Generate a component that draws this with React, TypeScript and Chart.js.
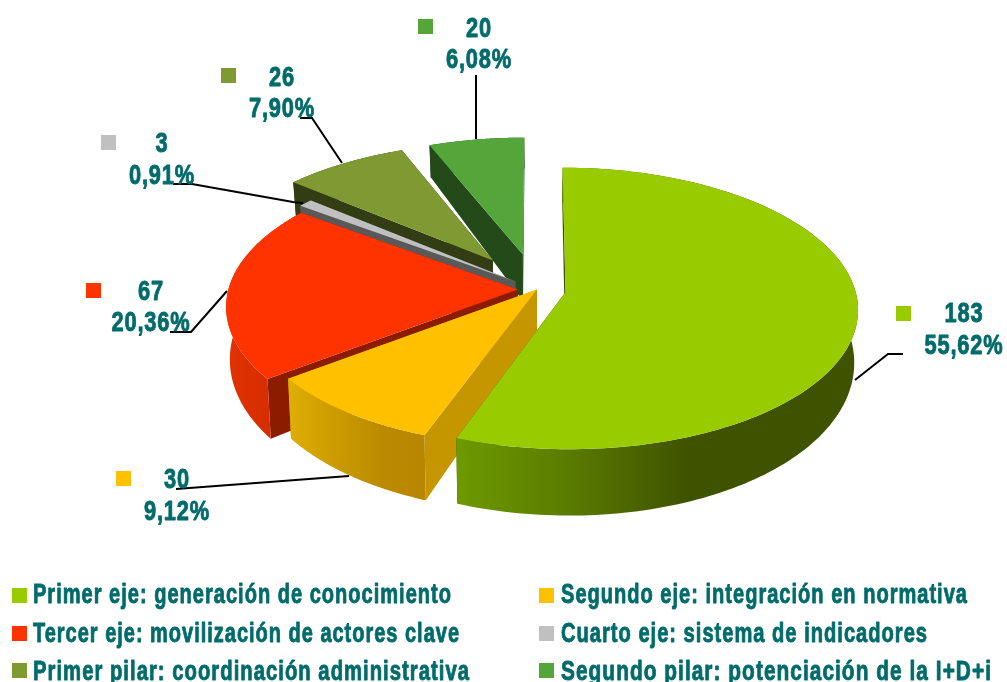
import React, { useEffect, useRef } from "react";
import { Chart, registerables } from "chart.js";

Chart.register(...registerables);

const categories = [
  "Primer eje: generación de conocimiento",
  "Segundo eje: integración en normativa",
  "Tercer eje: movilización de actores clave",
  "Cuarto eje: sistema de indicadores",
  "Primer pilar: coordinación administrativa",
  "Segundo pilar: potenciación de la I+D+i",
];
const values = [183, 30, 67, 3, 26, 20];
const percents = ["55,62%", "9,12%", "20,36%", "0,91%", "7,90%", "6,08%"];

const topColors = ["#99CC00", "#FFC000", "#FF3300", "#C0C0C0", "#7F9933", "#54A63A"];
const cutColors = ["#3F5000", "#C59600", "#8B1C00", "#595959", "#333D14", "#234A18"];
const wallStops: string[][] = [
  ["#6E9A00", "#5C7F00", "#3F5200", "#3F5200"],
  ["#DFAE06", "#CB9B00", "#BC8A00", "#B98600"],
  ["#E23200", "#DB2F00", "#D42C00", "#D02A00"],
  ["#595959", "#595959", "#595959", "#595959"],
  ["#333D14", "#333D14", "#333D14", "#333D14"],
  ["#234A18", "#234A18", "#234A18", "#234A18"],
];
const explode = [0.1, 0, 0.066, 0.095, 0.265, 0.265];
const drawOrder = [5, 4, 3, 2, 1, 0];

const TILT = 0.4776;
const PERSPECTIVE = 0.117;
const DEPTH_BASE = 50.5;
const DEPTH_SLOPE = 15.6;
const BOTTOM_SHRINK = 0.988;
const TEAL = "#006B6B";
const FONT = '"Liberation Sans", Arial, sans-serif';
const LABEL_SQUEEZE = 0.78;
const legendWidths = [419, 407, 427, 367, 437, 431];

const labelBoxes = [
  { sx: 896, sy: 306, cx: 964, y1: 322, y2: 354 },
  { sx: 116, sy: 471, cx: 177, y1: 488, y2: 520 },
  { sx: 86, sy: 283, cx: 151, y1: 300, y2: 331 },
  { sx: 101, sy: 135, cx: 162, y1: 152, y2: 184 },
  { sx: 221, sy: 68, cx: 282, y1: 86, y2: 117 },
  { sx: 418, sy: 19, cx: 479, y1: 37, y2: 68 },
];
const leaders: number[][][] = [
  [[855, 380], [888, 354], [903, 354]],
  [[349, 476], [176, 489]],
  [[227, 291], [191, 332], [170, 332]],
  [[173, 184], [192, 184], [293, 202], [303, 203]],
  [[300, 118], [312, 118], [342, 163]],
  [[476, 75], [476, 139]],
];
const legendSlots = [
  { sx: 12, sy: 588, tx: 33, by: 603 },
  { sx: 539, sy: 588, tx: 561, by: 603 },
  { sx: 12, sy: 626, tx: 33, by: 642 },
  { sx: 539, sy: 626, tx: 561, by: 642 },
  { sx: 12, sy: 663, tx: 33, by: 680 },
  { sx: 539, sy: 663, tx: 561, by: 680 },
];

function squeezedText(ctx: CanvasRenderingContext2D, text: string, x: number, y: number, sx: number) {
  ctx.save();
  ctx.translate(x, y);
  ctx.scale(sx, 1);
  ctx.lineWidth = 0.9;
  ctx.lineJoin = "round";
  ctx.strokeStyle = ctx.fillStyle as string;
  ctx.strokeText(text, 0, 0);
  ctx.fillText(text, 0, 0);
  ctx.restore();
}

const pie3d = {
  id: "pie3d",
  beforeDatasetsDraw(chart: any) {
    const ctx: CanvasRenderingContext2D = chart.ctx;
    const arcs = chart.getDatasetMeta(0).data;
    ctx.save();
    for (const i of drawOrder) {
      const arc = arcs[i];
      const { x: cx, y: cy, outerRadius: R, startAngle, endAngle } = arc.getProps(
        ["x", "y", "outerRadius", "startAngle", "endAngle"],
        true
      );
      const mid = (startAngle + endAngle) / 2;
      const ou = explode[i] * Math.cos(mid);
      const ov = explode[i] * Math.sin(mid);
      const top = (u: number, v: number) => {
        const s = 1 / (1 - PERSPECTIVE * v);
        return [cx + u * s * R, cy + v * s * R * TILT, v];
      };
      const low = (u: number, v: number) => {
        const p = top(u, v);
        return [cx + (p[0] - cx) * BOTTOM_SHRINK, p[1] + DEPTH_BASE + DEPTH_SLOPE * v];
      };
      const steps = 160;
      const rim: number[][] = [];
      for (let k = 0; k <= steps; k++) {
        const a = startAngle + ((endAngle - startAngle) * k) / steps;
        rim.push([ou + Math.cos(a), ov + Math.sin(a)]);
      }
      const poly = (pts: number[][], fill: any) => {
        ctx.beginPath();
        pts.forEach((p, n) => (n ? ctx.lineTo(p[0], p[1]) : ctx.moveTo(p[0], p[1])));
        ctx.closePath();
        ctx.fillStyle = fill;
        ctx.fill();
      };
      const apex = [ou, ov];
      for (const e of [rim[0], rim[steps]]) {
        poly([top(apex[0], apex[1]), top(e[0], e[1]), low(e[0], e[1]), low(apex[0], apex[1])], cutColors[i]);
      }
      const topRim = rim.map((p) => top(p[0], p[1]));
      const lowRim = rim.map((p) => low(p[0], p[1]));
      const xs = topRim.map((p) => p[0]);
      const minX = Math.min(...xs);
      const maxX = Math.max(...xs);
      const g = ctx.createLinearGradient(minX, 0, maxX, 0);
      const stops = wallStops[i];
      const stopPos = i === 0 ? [0, 0.25, 0.58, 1] : [0, 0.35, 0.7, 1];
      stops.forEach((c, n) => g.addColorStop(stopPos[n], c));
      poly([...topRim, ...lowRim.slice().reverse()], g);
      poly([top(apex[0], apex[1]), ...topRim], topColors[i]);
    }
    ctx.restore();
    return false;
  },
  afterDraw(chart: any) {
    const ctx: CanvasRenderingContext2D = chart.ctx;
    ctx.save();
    ctx.strokeStyle = "#000000";
    ctx.lineWidth = 2;
    leaders.forEach((line) => {
      ctx.beginPath();
      line.forEach((p, n) => (n ? ctx.lineTo(p[0], p[1]) : ctx.moveTo(p[0], p[1])));
      ctx.stroke();
    });
    ctx.textBaseline = "alphabetic";
    ctx.font = `bold 28px ${FONT}`;
    (ctx as any).letterSpacing = "1px";
    ctx.textAlign = "center";
    values.forEach((v, i) => {
      const b = labelBoxes[i];
      ctx.fillStyle = topColors[i];
      ctx.fillRect(b.sx, b.sy, 15, 15);
      ctx.fillStyle = TEAL;
      squeezedText(ctx, String(v), b.cx, b.y1, LABEL_SQUEEZE);
      squeezedText(ctx, percents[i], b.cx, b.y2, LABEL_SQUEEZE);
    });
    ctx.textAlign = "left";
    ctx.font = `bold 28px ${FONT}`;
    (ctx as any).letterSpacing = "1.4px";
    categories.forEach((c, i) => {
      const s = legendSlots[i];
      ctx.fillStyle = topColors[i];
      ctx.fillRect(s.sx, s.sy, 15, 15);
      ctx.fillStyle = TEAL;
      squeezedText(ctx, c, s.tx, s.by, legendWidths[i] / ctx.measureText(c).width);
    });
    ctx.restore();
  },
};

export default function App() {
  const ref = useRef<HTMLCanvasElement>(null);
  useEffect(() => {
    document.body.style.margin = "0";
    const chart = new Chart(ref.current as HTMLCanvasElement, {
      type: "pie",
      data: {
        labels: categories,
        datasets: [{ data: values, backgroundColor: topColors, borderWidth: 0 }],
      },
      options: {
        responsive: false,
        animation: false,
        layout: { padding: { left: 67, right: 0, top: 0, bottom: 103 } },
        plugins: { legend: { display: false }, tooltip: { enabled: false }, title: { display: false } },
      },
      plugins: [pie3d],
    } as any);
    return () => chart.destroy();
  }, []);
  return (
    <div style={{ width: 1007, height: 682, background: "#fff" }}>
      <canvas ref={ref} width={1007} height={682} style={{ display: "block" }} />
    </div>
  );
}
